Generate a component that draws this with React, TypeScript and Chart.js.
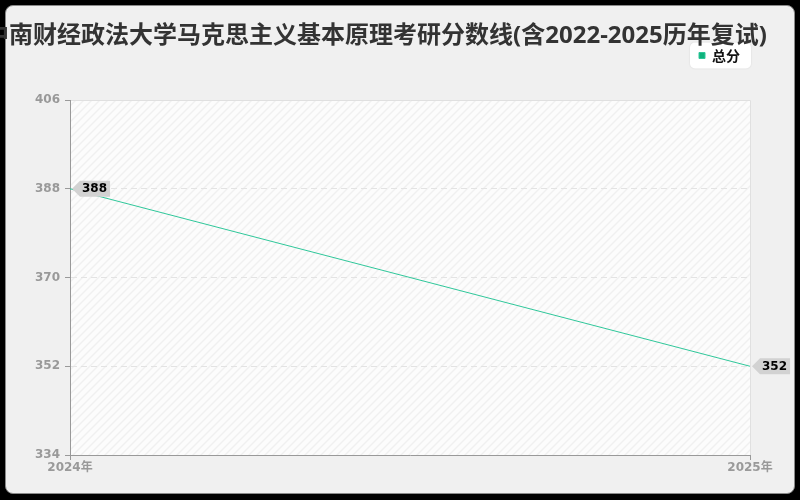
import { useEffect, useRef } from "react";
import { Chart, registerables } from "chart.js";

Chart.register(...registerables);

const TITLE = "中南财经政法大学马克思主义基本原理考研分数线(含2022-2025历年复试)";
const years = ["2024年", "2025年"];
const totalScores = [388, 352];
const seriesName = "总分";
const yMin = 334;
const yMax = 406;
const yStep = 18;

const TICK_FONT = { family: "'DejaVu Sans', 'Noto Sans CJK SC', sans-serif", size: 12, weight: "bold" as const };

function makeHatch(ctx: CanvasRenderingContext2D) {
  const tile = document.createElement("canvas");
  tile.width = 8;
  tile.height = 8;
  const t = tile.getContext("2d")!;
  t.fillStyle = "#fcfcfc";
  t.fillRect(0, 0, 8, 8);
  t.strokeStyle = "#f0f0f0";
  t.lineWidth = 1.5;
  t.beginPath();
  t.moveTo(0, 8);
  t.lineTo(8, 0);
  t.moveTo(-4, 4);
  t.lineTo(4, -4);
  t.moveTo(4, 12);
  t.lineTo(12, 4);
  t.stroke();
  return ctx.createPattern(tile, "repeat");
}

// plot background, frame and legend card
const backdrop = {
  id: "backdrop",
  beforeDraw(chart: any) {
    const { ctx, chartArea: a, legend } = chart;
    ctx.save();
    ctx.fillStyle = makeHatch(ctx) || "#fafafa";
    ctx.fillRect(a.left, a.top, a.right - a.left, a.bottom - a.top);
    ctx.strokeStyle = "#e0e0e0";
    ctx.lineWidth = 1;
    ctx.beginPath();
    ctx.moveTo(a.left, a.top + 0.5);
    ctx.lineTo(a.right + 0.5, a.top + 0.5);
    ctx.lineTo(a.right + 0.5, a.bottom);
    ctx.stroke();
    const hb = legend?.legendHitBoxes?.[0];
    if (hb) {
      ctx.shadowColor = "rgba(0,0,0,0.12)";
      ctx.shadowBlur = 2;
      ctx.fillStyle = "#ffffff";
      ctx.beginPath();
      ctx.roundRect(hb.left - 9, hb.top - 6, hb.width + 20, hb.height + 12, 5);
      ctx.fill();
    }
    ctx.restore();
  },
};

// wide title: drawn without the maxWidth squeeze of the built-in title
const wideTitle = {
  id: "wideTitle",
  afterDraw(chart: any) {
    const { ctx, chartArea: a } = chart;
    ctx.save();
    ctx.font = "bold 24px 'Noto Sans', 'Noto Sans CJK SC', sans-serif";
    ctx.fillStyle = "#333333";
    ctx.textAlign = "center";
    ctx.textBaseline = "middle";
    ctx.fillText(TITLE, (a.left - 68 + a.right) / 2, 36);
    ctx.restore();
  },
};

// arrow-shaped value tags at each point
const valueTags = {
  id: "valueTags",
  afterDatasetsDraw(chart: any) {
    const { ctx } = chart;
    const ds = chart.data.datasets[0];
    const meta = chart.getDatasetMeta(0);
    ctx.save();
    ctx.font = "bold 12px 'DejaVu Sans', sans-serif";
    meta.data.forEach((pt: any, i: number) => {
      const { x, y } = pt.getProps(["x", "y"], true);
      const text = String(ds.data[i]);
      const tw = ctx.measureText(text).width;
      const tip = x + 2;
      const bx = tip + 8;
      const w = tw + 5;
      const h = 16;
      ctx.fillStyle = "#d2d2d2";
      ctx.beginPath();
      ctx.moveTo(tip, y);
      ctx.lineTo(bx, y - h / 2);
      ctx.lineTo(bx + w, y - h / 2);
      ctx.lineTo(bx + w, y + h / 2);
      ctx.lineTo(bx, y + h / 2);
      ctx.closePath();
      ctx.fill();
      ctx.fillStyle = "#000";
      ctx.textBaseline = "middle";
      ctx.textAlign = "left";
      ctx.fillText(text, bx + 2, y + 0.5);
    });
    ctx.restore();
  },
};

function ScoreLine() {
  const canvasRef = useRef<HTMLCanvasElement>(null);
  const chartRef = useRef<Chart | null>(null);

  useEffect(() => {
    if (!canvasRef.current) return;
    const ctx = canvasRef.current.getContext("2d");
    if (!ctx) return;
    if (chartRef.current) chartRef.current.destroy();

    chartRef.current = new Chart(ctx, {
      type: "line",
      data: {
        labels: years,
        datasets: [
          {
            label: seriesName,
            data: totalScores,
            borderColor: "#2fc79a",
            backgroundColor: "#10b27c",
            borderWidth: 1,
            pointRadius: 0,
            pointHoverRadius: 0,
            tension: 0,
          },
        ],
      },
      options: {
        responsive: false,
        animation: false,
        events: [],
        layout: { padding: { left: 2, right: 50, top: 38.5, bottom: 0 } },
        plugins: {
          title: { display: false },
          legend: {
            display: true,
            position: "top",
            align: "end",
            labels: {
              usePointStyle: true,
              pointStyle: "rect",
              boxWidth: 6,
              boxHeight: 6,
              padding: 10,
              color: "#111111",
              font: { family: "'Noto Sans CJK SC', sans-serif", size: 14, weight: "bold" },
            },
          },
          subtitle: {
            display: true,
            text: " ",
            position: "top",
            weight: 500,
            font: { size: 10, lineHeight: 1 },
            padding: { top: 17.5, bottom: 0 },
          },
          tooltip: { enabled: false },
        },
        scales: {
          x: {
            type: "category",
            offset: false,
            grid: { display: true, drawOnChartArea: false, drawTicks: true, tickLength: 5, tickColor: "#999999" },
            border: { display: true, color: "#999999", width: 1 },
            ticks: { color: "#999999", font: TICK_FONT, padding: 1, maxRotation: 0 },
            afterFit(scale: any) {
              scale.height = 45;
              scale.paddingLeft = 0;
              scale.paddingRight = 0;
            },
          },
          y: {
            min: yMin,
            max: yMax,
            grid: {
              color: (c: any) => (c.tick && (c.tick.value === yMin || c.tick.value === yMax) ? "rgba(0,0,0,0)" : "#e3e3e3"),
              lineWidth: 1,
              tickLength: 5,
              tickColor: "#999999",
            },
            border: { display: true, color: "#999999", width: 1, dash: [6, 4] },
            ticks: { stepSize: yStep, color: "#999999", font: TICK_FONT, padding: 5 },
            afterFit(scale: any) {
              scale.width = 68;
            },
          },
        },
      },
      plugins: [backdrop, valueTags, wideTitle],
    } as any);

    return () => {
      chartRef.current?.destroy();
      chartRef.current = null;
    };
  }, []);

  return <canvas ref={canvasRef} width={800} height={500} style={{ position: "absolute", left: 0, top: 0, width: 800, height: 500 }} />;
}

export default function App() {
  return (
    <div style={{ position: "fixed", inset: 0, background: "#000" }}>
      <div
        style={{
          position: "absolute",
          left: 5,
          top: 5,
          width: 790,
          height: 489,
          boxSizing: "border-box",
          border: "1px solid #8a8a8a",
          borderRadius: 8,
          background: "#f0f0f0",
        }}
      />
      <ScoreLine />
    </div>
  );
}
